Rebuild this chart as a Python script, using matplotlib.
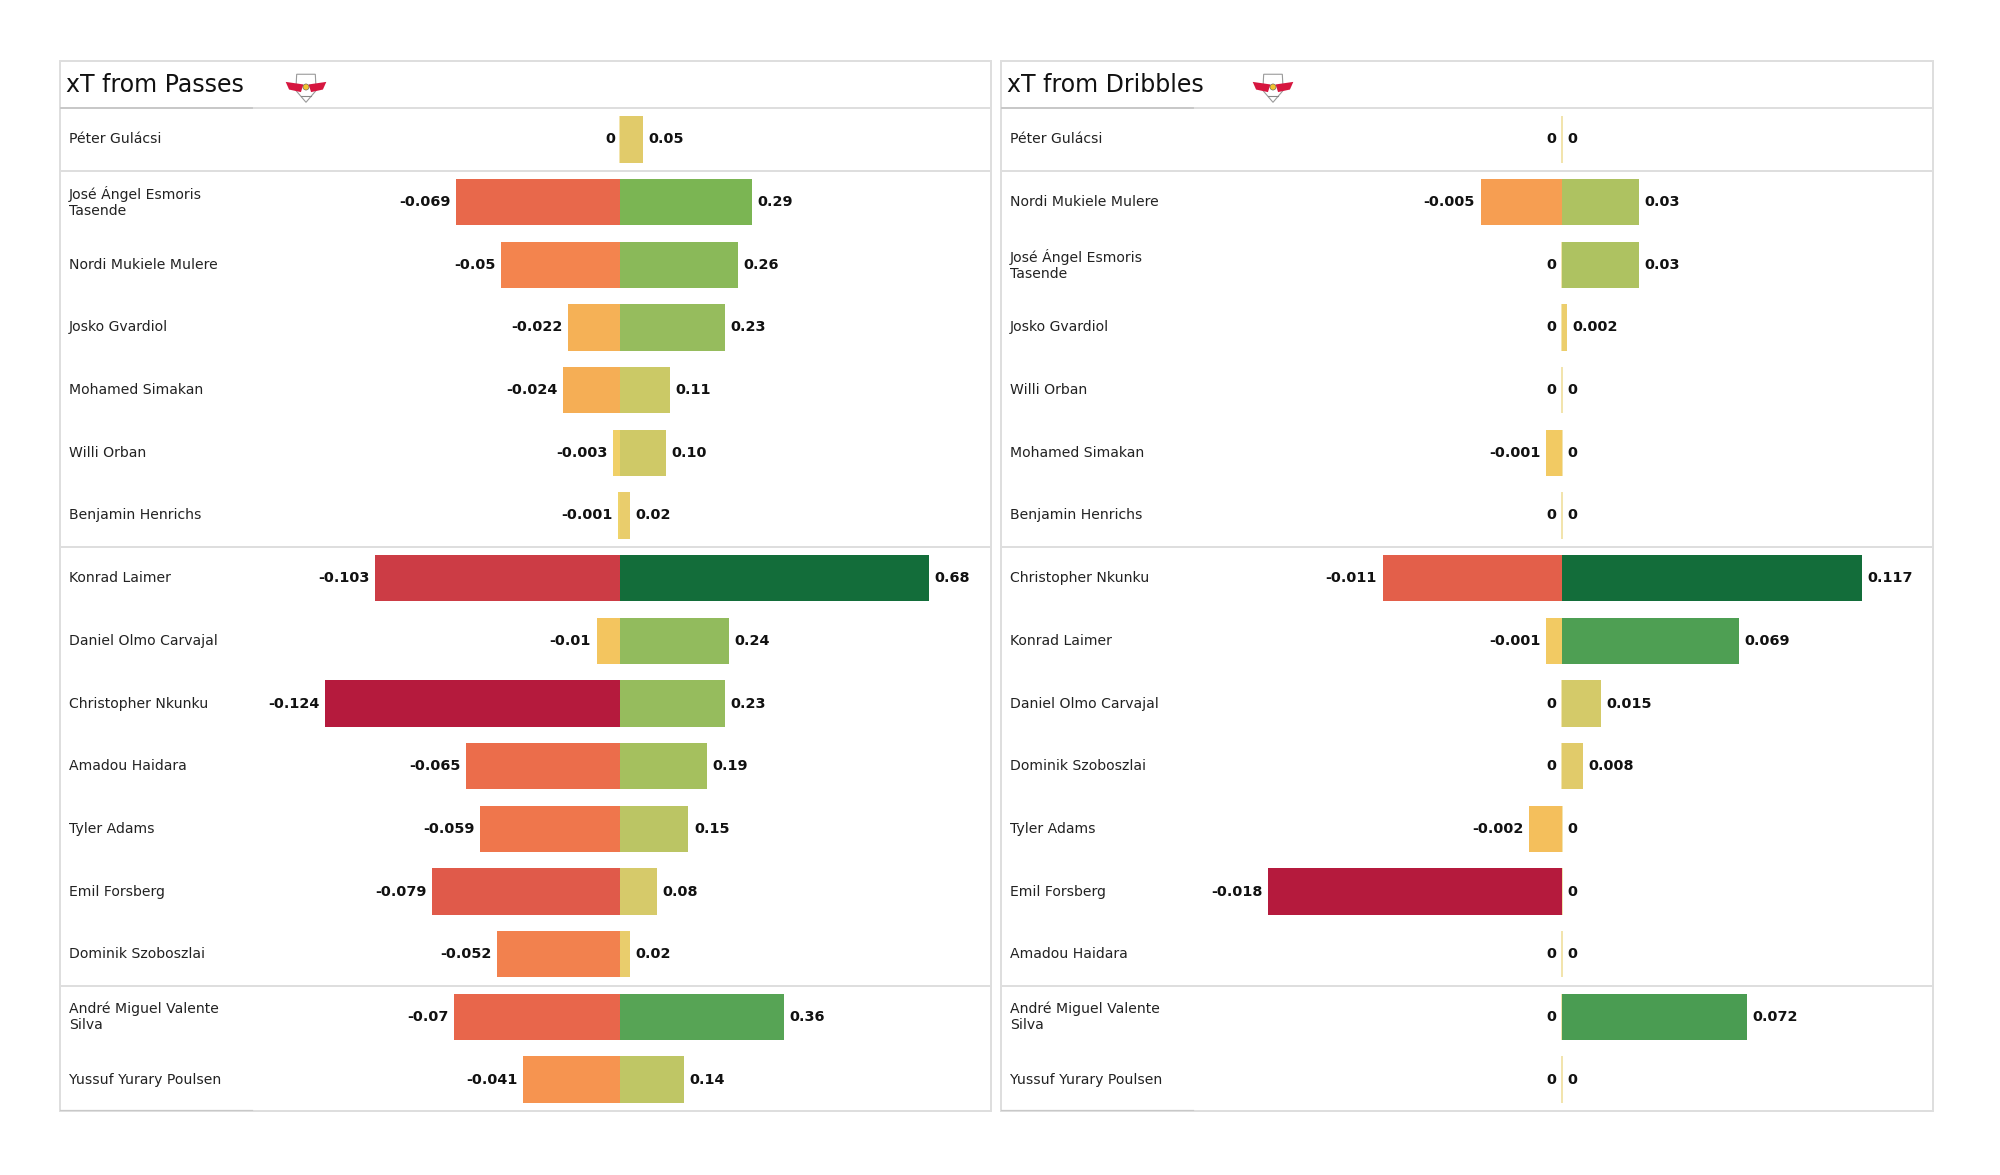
import matplotlib
matplotlib.use("Agg")

import numpy as np
import matplotlib.pyplot as plt
from matplotlib.colors import LinearSegmentedColormap
from matplotlib.patches import Rectangle, Ellipse, Circle, Polygon

# ============================================================
# DATA
# ============================================================
players_passes = [
    "Péter Gulácsi", "José Ángel Esmoris\nTasende", "Nordi Mukiele Mulere",
    "Josko Gvardiol", "Mohamed Simakan", "Willi Orban", "Benjamin Henrichs",
    "Konrad Laimer", "Daniel Olmo Carvajal", "Christopher Nkunku",
    "Amadou Haidara", "Tyler Adams", "Emil Forsberg", "Dominik Szoboszlai",
    "André Miguel Valente\nSilva", "Yussuf Yurary Poulsen",
]
neg_passes = [0, -0.069, -0.05, -0.022, -0.024, -0.003, -0.001, -0.103,
              -0.01, -0.124, -0.065, -0.059, -0.079, -0.052, -0.07, -0.041]
pos_passes = [0.05, 0.29, 0.26, 0.23, 0.11, 0.10, 0.02, 0.68,
              0.24, 0.23, 0.19, 0.15, 0.08, 0.02, 0.36, 0.14]

players_dribbles = [
    "Péter Gulácsi", "Nordi Mukiele Mulere", "José Ángel Esmoris\nTasende",
    "Josko Gvardiol", "Willi Orban", "Mohamed Simakan", "Benjamin Henrichs",
    "Christopher Nkunku", "Konrad Laimer", "Daniel Olmo Carvajal",
    "Dominik Szoboszlai", "Tyler Adams", "Emil Forsberg", "Amadou Haidara",
    "André Miguel Valente\nSilva", "Yussuf Yurary Poulsen",
]
neg_dribbles = [0, -0.005, 0, 0, 0, -0.001, 0, -0.011,
                -0.001, 0, 0, -0.002, -0.018, 0, 0, 0]
pos_dribbles = [0, 0.03, 0.03, 0.002, 0, 0, 0, 0.117,
                0.069, 0.015, 0.008, 0, 0, 0, 0.072, 0]

# position groups end after these rows (GK | DEF | MID | FWD)
group_breaks = [0, 6, 13]

# ============================================================
# STYLE
# ============================================================
W, H = 2000, 1175
neg_cmap = LinearSegmentedColormap.from_list("neg", [
    (0.0, "#efd56b"), (0.08, "#f3c55f"), (0.19, "#f5ae55"), (0.33, "#f69450"),
    (0.41, "#f3834e"), (0.50, "#ee714b"), (0.64, "#e05a4a"), (0.83, "#cc3c45"),
    (1.0, "#b51a3d"),
])
pos_cmap = LinearSegmentedColormap.from_list("pos", [
    (0.0, "#f0cf6c"), (0.03, "#e8cd6c"), (0.074, "#e0cb6a"), (0.118, "#d6ca6a"),
    (0.16, "#cbc966"), (0.22, "#bbc564"), (0.28, "#a4c05e"), (0.35, "#93bb5d"),
    (0.43, "#7ab553"), (0.53, "#57a455"), (0.6, "#4c9e53"), (1.0, "#136d3a"),
])

border_col = "#dedede"
dark_col = "#c8c8c8"
ZERO = 0.602
BAR_H = 0.74
NAME_FS = 10.1
VAL_FS = 10.4
TITLE_FS = 17


def fmt(v, dec):
    if v == 0:
        return "0"
    s = f"{v:.{dec}f}"
    if dec == 3:
        s = s.rstrip("0").rstrip(".")
    return s


def draw_logo(fig, cx, cy):
    lw, lh = 44, 34
    lax = fig.add_axes([(cx - lw / 2) / W, 1 - (cy + lh / 2) / H, lw / W, lh / H])
    lax.set_xlim(-1.3, 1.3)
    lax.set_ylim(-1.0, 1.0)
    lax.axis("off")
    lax.add_patch(Polygon([[-0.55, 0.75], [0.55, 0.75], [0.6, -0.2], [0, -0.9], [-0.6, -0.2]],
                          closed=True, facecolor="white", edgecolor="#9a9a9a", lw=0.8))
    lax.add_patch(Polygon([[-1.2, 0.3], [-0.15, 0.15], [-0.3, -0.3], [-1.0, -0.15]],
                          closed=True, facecolor="#d6163f", edgecolor="none"))
    lax.add_patch(Polygon([[1.2, 0.3], [0.15, 0.15], [0.3, -0.3], [1.0, -0.15]],
                          closed=True, facecolor="#d6163f", edgecolor="none"))
    lax.add_patch(Circle((0, 0.0), 0.18, facecolor="#f2c230", edgecolor="#555555", lw=0.4))
    lax.plot([-0.3, 0.3], [-0.5, -0.5], color="#888888", lw=0.8)


def draw_panel(fig, rect, title, players, neg, pos, neg_w, pos_w, pos_dec, logo_x):
    ax = fig.add_axes(rect)
    n = len(players)
    y = np.arange(n)
    ax.set_xlim(-ZERO, 1 - ZERO)
    ax.set_ylim(n - 0.5, -1.25)
    ax.axis("off")

    neg = np.array(neg, dtype=float)
    pos = np.array(pos, dtype=float)
    neg_max = np.abs(neg).max()
    pos_max = pos.max()
    neg_len = neg / neg_max * neg_w
    pos_len = pos / pos_max * pos_w

    ax.barh(y, neg_len, height=BAR_H, color=neg_cmap(np.abs(neg) / neg_max), zorder=3)
    ax.barh(y, pos_len, height=BAR_H, color=pos_cmap(pos / pos_max), zorder=3)

    # zero-valued entries still leave a thin line at the axis
    zero_rows = y[(neg == 0) | (pos == 0)]
    ax.vlines(np.zeros(len(zero_rows)), zero_rows - BAR_H / 2, zero_rows + BAR_H / 2,
              color="#efdc95", lw=1.1, zorder=2)

    for i in range(n):
        ax.annotate(fmt(neg[i], 3), (neg_len[i], y[i]), xytext=(-4, 0),
                    textcoords="offset points", ha="right", va="center",
                    fontsize=VAL_FS, fontweight="bold", color="#111111")
        ax.annotate(fmt(pos[i], pos_dec), (pos_len[i], y[i]), xytext=(4, 0),
                    textcoords="offset points", ha="left", va="center",
                    fontsize=VAL_FS, fontweight="bold", color="#111111")

    tr = ax.get_yaxis_transform()
    for i, name in enumerate(players):
        ax.text(0.0097, y[i], name, transform=tr, ha="left", va="center",
                fontsize=NAME_FS, color="#222222", linespacing=1.2)

    ax.text(0.0065, -0.875, title, transform=tr, ha="left", va="center",
            fontsize=TITLE_FS, color="#111111")

    # frame and separators
    ax.add_patch(Rectangle((0, 0), 1, 1, transform=ax.transAxes, fill=False,
                           edgecolor=border_col, lw=1.4, zorder=1, clip_on=False))
    ax.axhline(-0.5, color=border_col, lw=1.4, zorder=1)
    ax.axhline(-0.5, xmin=0, xmax=0.206, color=dark_col, lw=1.4, zorder=1)
    ax.axhline(n - 0.5, xmin=0, xmax=0.206, color=dark_col, lw=1.6, zorder=1)
    for b in group_breaks:
        ax.axhline(b + 0.5, color=border_col, lw=1.4, zorder=1)

    draw_logo(fig, logo_x, 87)
    return ax


fig = plt.figure(figsize=(W / 100, H / 100), dpi=100)
fig.patch.set_facecolor("white")

top, bottom = 61, 1111
draw_panel(fig, [60 / W, 1 - bottom / H, 931 / W, (bottom - top) / H],
           "xT from Passes", players_passes, neg_passes, pos_passes,
           0.317, 0.331, 2, 306)
draw_panel(fig, [1001 / W, 1 - bottom / H, 932 / W, (bottom - top) / H],
           "xT from Dribbles", players_dribbles, neg_dribbles, pos_dribbles,
           0.315, 0.322, 3, 1273)

fig.savefig("out.png", dpi=100, facecolor="white")
